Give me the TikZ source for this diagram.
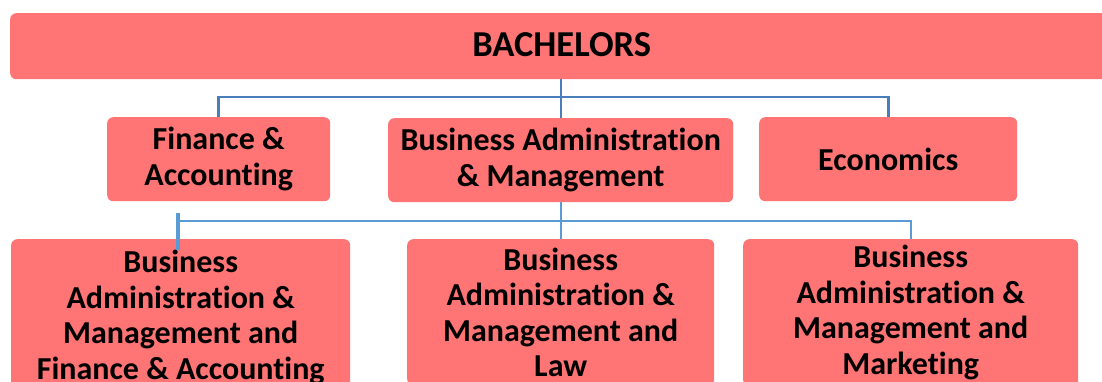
\documentclass[tikz,border=0pt]{standalone}
\usepackage{fontspec}
\setmainfont{Carlito}[Ligatures=NoCommon]
\definecolor{boxfill}{RGB}{255,117,117}
\definecolor{connA}{RGB}{74,126,187}
\definecolor{connB}{RGB}{91,155,213}
\begin{document}
\begin{tikzpicture}[x=1pt,y=-1pt,
  box/.style={rectangle, rounded corners=6pt, fill=boxfill, draw=none, inner sep=0pt,
    anchor=north west, align=center, font=\bfseries\fontsize{32}{35.5}\selectfont},
  connup/.style={draw=connA, line width=2.6pt},
  connlow/.style={draw=connB, line width=2.4pt}]
\useasboundingbox (0,0) rectangle (1102,381);
\clip (0,0) rectangle (1102,381);
\fill[white] (0,0) rectangle (1102,381);
% boxes
\node[box, minimum width=1100pt, minimum height=66pt, font=\bfseries\fontsize{36.5}{40}\selectfont] (top) at (10,13) {\hspace*{3pt}BACHELORS\rule[-3pt]{0pt}{0pt}};
\node[box, minimum width=223pt, minimum height=84pt] (fa) at (107,117) {Finance \&\\Accounting};
\node[box, minimum width=345pt, minimum height=84pt] (ba) at (388,118) {Business Administration\\\& Management};
\node[box, minimum width=258pt, minimum height=84pt] (ec) at (759,117) {Economics};
\node[box, minimum width=339pt, minimum height=157pt] (b1) at (11,239) {Business\\Administration \&\\Management and\\Finance \& Accounting};
\node[box, minimum width=307pt, minimum height=146pt] (b2) at (407,239) {Business\\Administration \&\\Management and\\Law};
\node[box, minimum width=335pt, minimum height=147pt] (b3) at (743,239) {Business\\Administration \&\\Management and\\Marketing};
% upper connectors
\coordinate (h1) at (561,97);
\draw[connup] (top.south -| h1) -- (ba.north -| h1);
\draw[connup] (fa.north) |- (h1) -| (ec.north);
% lower connectors
\coordinate (h2) at (561,221);
\coordinate (s1) at (178,213);
\coordinate (s2) at (178,250);
\draw[connlow] (ba.south -| h2) -- (b2.north -| h2);
\draw[connlow] (s1 |- h2) -| (b3.north);
\draw[connlow, line width=3.6pt] (s1) -- (s2);
\end{tikzpicture}
\end{document}
